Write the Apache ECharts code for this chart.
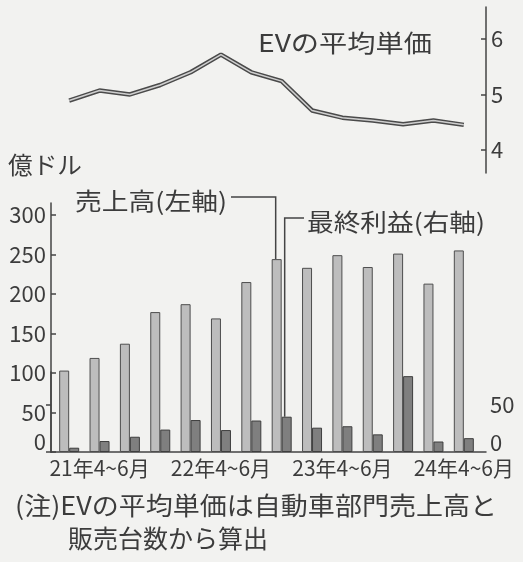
<!DOCTYPE html>
<html><head><meta charset="utf-8">
<script src="https://cdn.jsdelivr.net/npm/echarts@6/dist/echarts.min.js"></script>
<style>html,body{margin:0;padding:0;background:#f2f2f0}#c{width:523px;height:562px}</style>
</head><body><div id="c"></div>
<script>
// ---- data ----
const categories = ['21年1~3月','21年4~6月','21年7~9月','21年10~12月','22年1~3月','22年4~6月','22年7~9月','22年10~12月','23年1~3月','23年4~6月','23年7~9月','23年10~12月','24年1~3月','24年4~6月'];
const sales  = [103, 119, 137, 177, 187, 169, 215, 244, 233, 249, 234, 251, 213, 255];   // 億ドル (left axis)
const profit = [4.5, 11.5, 16, 23.5, 33.5, 23, 33, 37, 25.5, 27, 18.5, 79.5, 11, 14.5];   // 億ドル (right axis)
const evPrice = [4.89, 5.07, 5.00, 5.17, 5.40, 5.72, 5.40, 5.24, 4.71, 4.58, 4.53, 4.46, 4.53, 4.45]; // 万ドル
const salesTicks = [0, 50, 100, 150, 200, 250, 300];
const profitTicks = [0, 50];
const priceTicks = [4, 5, 6];
const calloutIdx = 7;

const FONT = '"Noto Sans CJK JP","Noto Sans",sans-serif';
const INK = '#3c3c3c';
const AX = '#444';

const chart = echarts.init(document.getElementById('c'), null, {renderer: 'canvas'});

const zeroLift = v => (v === 0 ? '{z|0}' : String(v));
const labelBase = {fontSize: 22, color: INK, fontFamily: FONT};

chart.setOption({
  backgroundColor: '#f2f2f0',
  animation: false,
  grid: [
    {left: 54, right: 44, top: 7, height: 166},
    {left: 54, right: 44, top: 203, bottom: 110},
    {left: 51, right: 37, top: 372, bottom: 110}
  ],
  xAxis: [
    {gridIndex: 0, type: 'category', data: categories, show: false},
    {gridIndex: 1, type: 'category', data: categories,
     axisLine: {show: false}, axisTick: {show: false},
     axisLabel: {interval: (i, v) => v.indexOf('4~6月') >= 0, margin: 6, fontSize: 21, color: INK, fontFamily: FONT}},
    {gridIndex: 2, type: 'value', min: 0, max: 1,
     axisLine: {show: true, lineStyle: {color: AX, width: 1.5}},
     axisTick: {show: false}, axisLabel: {show: false}, splitLine: {show: false}}
  ],
  yAxis: [
    {gridIndex: 0, type: 'value', position: 'right', offset: 7, min: 3.58, max: 6.58,
     axisLine: {show: true, lineStyle: {color: AX, width: 1.5}},
     axisTick: {show: true, inside: true, length: 5, customValues: priceTicks, lineStyle: {color: AX, width: 1.5}},
     axisLabel: Object.assign({customValues: priceTicks, margin: 5}, labelBase),
     splitLine: {show: false}},
    {gridIndex: 1, type: 'value', position: 'left', offset: 3, min: 0, max: 315,
     axisLine: {show: true, lineStyle: {color: AX, width: 1.5}},
     axisTick: {show: true, inside: true, length: 5, customValues: salesTicks, lineStyle: {color: AX, width: 1.5}},
     axisLabel: Object.assign({customValues: salesTicks, margin: 5, formatter: zeroLift,
       rich: {z: {fontSize: 22, color: INK, fontFamily: FONT, padding: [0, 0, 20, 0]}}}, labelBase),
     splitLine: {show: false}},
    {gridIndex: 1, type: 'value', position: 'right', min: 0, max: 261, show: false, splitLine: {show: false}},
    {gridIndex: 2, type: 'value', position: 'right', min: 0, max: 84,
     axisLine: {show: true, lineStyle: {color: AX, width: 1.5}},
     axisTick: {show: true, inside: true, length: 5, customValues: profitTicks, lineStyle: {color: AX, width: 1.5}},
     axisLabel: Object.assign({customValues: profitTicks, margin: 4, formatter: zeroLift,
       rich: {z: {fontSize: 22, color: INK, fontFamily: FONT, padding: [0, 0, 18, 0]}}}, labelBase),
     splitLine: {show: false}}
  ],
  series: [
    {name: '売上高', type: 'bar', xAxisIndex: 1, yAxisIndex: 1, data: sales,
     barWidth: 10, barGap: '0%',
     itemStyle: {color: '#bdbdbd', borderColor: '#4e4e4e', borderWidth: 1}},
    {name: '最終利益', type: 'bar', xAxisIndex: 1, yAxisIndex: 2, data: profit,
     barWidth: 10, barGap: '0%',
     itemStyle: {color: '#7f7f7f', borderColor: '#3e3e3e', borderWidth: 1}},
    {name: 'EVの平均単価', type: 'line', xAxisIndex: 0, yAxisIndex: 0, data: evPrice,
     symbol: 'none', z: 3, lineStyle: {width: 4.5, color: '#4a4a4a'}},
    {name: 'EVの平均単価(芯)', type: 'line', xAxisIndex: 0, yAxisIndex: 0, data: evPrice,
     symbol: 'none', z: 4, silent: true, lineStyle: {width: 1.5, color: '#cfcfcf'}}
  ]
});

// ---- annotations ----
const mc = document.createElement('canvas').getContext('2d');
function fitText(text, left, cy, size, targetW) {
  mc.font = size + 'px ' + FONT;
  const w = mc.measureText(text).width || targetW;
  return {
    type: 'text', x: left, y: cy, scaleX: targetW / w, originX: 0, originY: 0, z: 10,
    style: {text: text, x: 0, y: 0, fill: INK, font: size + 'px ' + FONT, align: 'left', verticalAlign: 'middle'}
  };
}
const sp = chart.convertToPixel({xAxisIndex: 1, yAxisIndex: 1}, [calloutIdx, sales[calloutIdx]]);
const pp = chart.convertToPixel({xAxisIndex: 1, yAxisIndex: 2}, [calloutIdx, profit[calloutIdx]]);
const lineStyle = {stroke: '#444', lineWidth: 1.5, fill: null};

chart.setOption({
  graphic: [
    fitText('EVの平均単価', 258, 43, 24, 174),
    fitText('億ドル', 8, 165, 24, 74),
    fitText('売上高(左軸)', 75, 201, 24, 152),
    fitText('最終利益(右軸)', 307, 222, 24, 178),
    fitText('(注)EVの平均単価は自動車部門売上高と', 15, 505, 25, 482),
    fitText('販売台数から算出', 68, 538, 25, 200),
    {type: 'polyline', z: 10, shape: {points: [[231, 197], [sp[0] - 6, 197], [sp[0] - 6, sp[1]]]}, style: lineStyle},
    {type: 'polyline', z: 10, shape: {points: [[304, 218], [pp[0] + 3, 218], [pp[0] + 3, pp[1]]]}, style: lineStyle}
  ]
});
</script></body></html>
